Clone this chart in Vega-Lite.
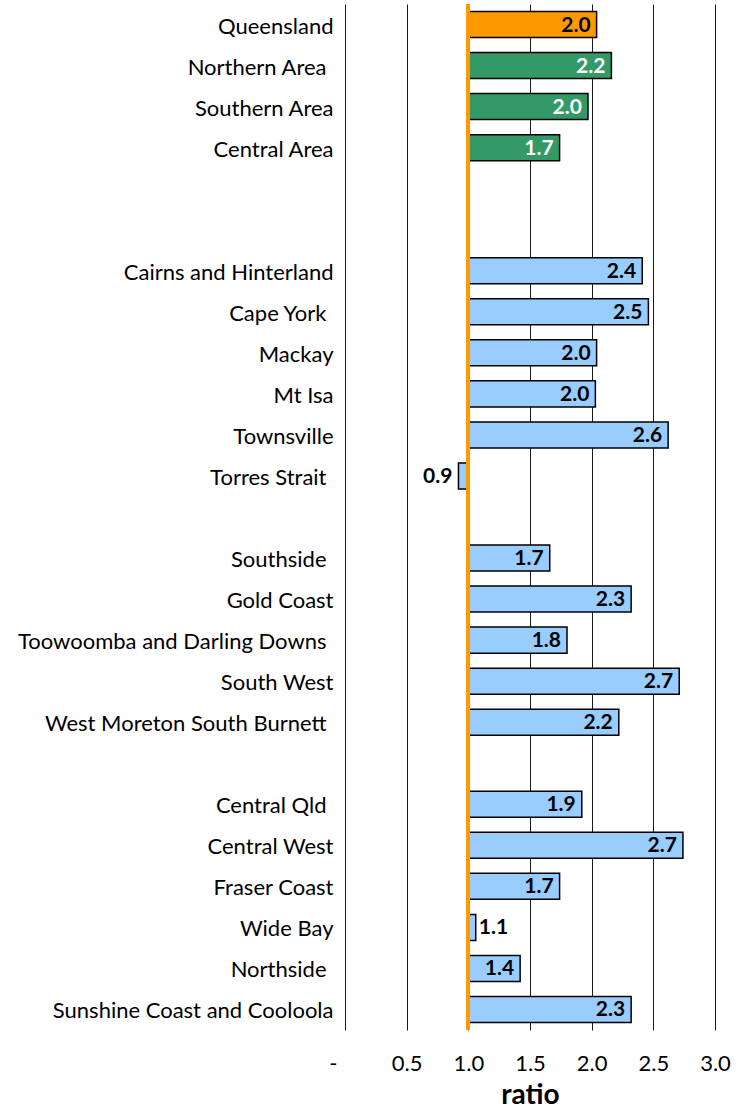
{
  "$schema": "https://vega.github.io/schema/vega-lite/v6.json",
  "width": 370,
  "height": 1026,
  "autosize": "none",
  "padding": {"left": 345, "top": 4, "right": 21, "bottom": 80},
  "background": "white",
  "config": {"view": {"stroke": null}, "font": "Lato"},
  "data": {
    "values": [
      {"region": "Queensland", "group": "State", "value": 2.04},
      {"region": "Northern Area ", "group": "Area", "value": 2.16},
      {"region": "Southern Area", "group": "Area", "value": 1.97},
      {"region": "Central Area", "group": "Area", "value": 1.74},
      {"region": "Cairns and Hinterland", "group": "HHS", "value": 2.41},
      {"region": "Cape York ", "group": "HHS", "value": 2.46},
      {"region": "Mackay", "group": "HHS", "value": 2.04},
      {"region": "Mt Isa", "group": "HHS", "value": 2.03},
      {"region": "Townsville", "group": "HHS", "value": 2.62},
      {"region": "Torres Strait ", "group": "HHS", "value": 0.92},
      {"region": "Southside ", "group": "HHS", "value": 1.66},
      {"region": "Gold Coast", "group": "HHS", "value": 2.32},
      {"region": "Toowoomba and Darling Downs ", "group": "HHS", "value": 1.8},
      {"region": "South West", "group": "HHS", "value": 2.71},
      {"region": "West Moreton South Burnett ", "group": "HHS", "value": 2.22},
      {"region": "Central Qld ", "group": "HHS", "value": 1.92},
      {"region": "Central West", "group": "HHS", "value": 2.74},
      {"region": "Fraser Coast", "group": "HHS", "value": 1.74},
      {"region": "Wide Bay", "group": "HHS", "value": 1.06},
      {"region": "Northside ", "group": "HHS", "value": 1.42},
      {"region": "Sunshine Coast and Cooloola", "group": "HHS", "value": 2.32}
    ]
  },
  "layer": [
    {
      "mark": {"type": "bar", "stroke": "#000000", "strokeWidth": 1.5},
      "encoding": {
        "y": {
          "field": "region",
          "type": "nominal",
          "scale": {
            "domain": ["Queensland", "Northern Area ", "Southern Area", "Central Area", "gap1", "gap2",
              "Cairns and Hinterland", "Cape York ", "Mackay", "Mt Isa", "Townsville", "Torres Strait ", "gap3",
              "Southside ", "Gold Coast", "Toowoomba and Darling Downs ", "South West", "West Moreton South Burnett ", "gap4",
              "Central Qld ", "Central West", "Fraser Coast", "Wide Bay", "Northside ", "Sunshine Coast and Cooloola"],
            "paddingInner": 0.366,
            "paddingOuter": 0.183
          },
          "axis": {
            "title": null,
            "domain": false,
            "ticks": false,
            "grid": false,
            "labelFont": "Lato",
            "labelFontSize": 22,
            "labelColor": "#000000",
            "labelPadding": {"condition": {"test": "substring(datum.value, length(datum.value) - 1) === ' '", "value": 19}, "value": 12},
            "labelOffset": 2,
            "labelLimit": 400,
            "labelExpr": "indexof(datum.label, 'gap') === 0 ? '' : datum.label"
          }
        },
        "x": {
          "field": "value",
          "type": "quantitative",
          "scale": {"domain": [0, 3], "nice": false, "zero": false},
          "axis": {
            "values": [0, 0.5, 1, 1.5, 2, 2.5, 3],
            "labelExpr": "datum.value === 0 ? '-' : format(datum.value, '.1f')",
            "labelAlign": {"condition": {"test": "datum.value === 0", "value": "right"}, "value": "center"},
            "labelOffset": {"condition": {"test": "datum.value === 0", "value": -8}, "value": 0},
            "grid": true,
            "gridColor": "#1a1a1a",
            "gridWidth": 1,
            "domain": false,
            "ticks": false,
            "labelFont": "Lato",
            "labelFontSize": 22,
            "labelColor": "#000000",
            "labelPadding": 23,
            "title": "ratio",
            "titleFont": "Lato",
            "titleFontSize": 28,
            "titleFontWeight": "bold",
            "titleColor": "#000000",
            "titlePadding": 7
          }
        },
        "x2": {"datum": 1},
        "color": {
          "field": "group",
          "type": "nominal",
          "scale": {"domain": ["State", "Area", "HHS"], "range": ["#FF9900", "#339966", "#99CCFF"]},
          "legend": null
        }
      }
    },
    {
      "transform": [{"filter": "!(datum.value > 1 && datum.value < 1.15)"}],
      "mark": {"type": "text", "align": "right", "dx": -6, "dy": 1, "font": "Lato", "fontSize": 21, "fontWeight": "bold"},
      "encoding": {
        "y": {"field": "region", "type": "nominal"},
        "x": {"field": "value", "type": "quantitative"},
        "text": {"field": "value", "type": "quantitative", "format": ".1f"},
        "color": {"condition": {"test": "datum.group === 'Area'", "value": "#FFFFFF"}, "value": "#000000"}
      }
    },
    {
      "transform": [{"filter": "datum.value > 1 && datum.value < 1.15"}],
      "mark": {"type": "text", "align": "left", "dx": 3, "dy": 1, "font": "Lato", "fontSize": 21, "fontWeight": "bold", "color": "#000000"},
      "encoding": {
        "y": {"field": "region", "type": "nominal"},
        "x": {"field": "value", "type": "quantitative"},
        "text": {"field": "value", "type": "quantitative", "format": ".1f"}
      }
    },
    {
      "mark": {"type": "rule", "color": "#FF9900", "strokeWidth": 3},
      "encoding": {"x": {"datum": 1}}
    }
  ]
}
